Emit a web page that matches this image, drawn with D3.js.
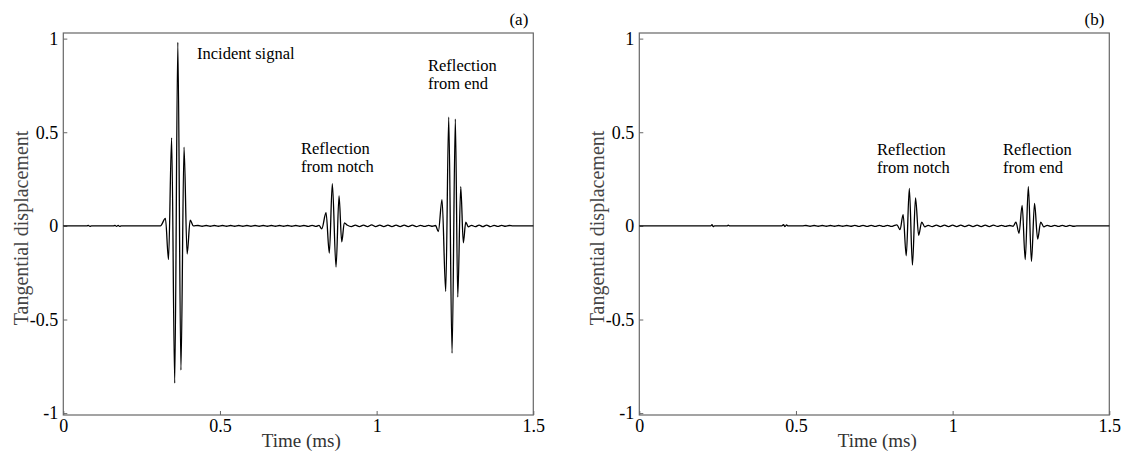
<!DOCTYPE html>
<html>
<head>
<meta charset="utf-8">
<script src="https://cdn.jsdelivr.net/npm/d3@7"></script>
<style>
  body { margin: 0; background: #fff; }
  svg { display: block; }
</style>
</head>
<body>
<svg id="chart" width="1130" height="457"></svg>
<script>
const serif = '"Liberation Serif", "Times New Roman", "DejaVu Serif", serif'

// ticks
const xTicks = [0, 0.5, 1, 1.5]
const yTicks = [-1, -0.5, 0, 0.5, 1]

// panel (a): [time ms, displacement]
const quietA = [[0, 0], [0.075, 0], [0.08, 0.003], [0.085, -0.003], [0.09, 0],
  [0.16, 0], [0.165, 0.003], [0.17, -0.003], [0.175, 0.003], [0.18, -0.003], [0.185, 0], [0.31, 0]]
const incidentA = [[0.3259, 0.04], [0.3358, -0.18], [0.3457, 0.47], [0.3556, -0.84], [0.3655, 0.98],
  [0.3754, -0.77], [0.3853, 0.42], [0.3951, -0.15], [0.4050, 0.03], [0.415, 0]]
const rippleA0 = [[0.430, 0.002], [0.443, -0.002], [0.456, 0.002], [0.469, -0.002], [0.482, 0.002],
  [0.495, -0.002], [0.508, 0.002], [0.521, -0.002], [0.534, 0.002], [0.547, -0.002], [0.560, 0.002],
  [0.573, -0.002], [0.586, 0.002], [0.599, -0.002], [0.612, 0.002], [0.625, -0.002], [0.638, 0.002],
  [0.651, -0.002], [0.664, 0.002], [0.677, -0.002], [0.690, 0.002], [0.703, -0.002], [0.716, 0.002],
  [0.729, -0.002], [0.742, 0.002], [0.755, -0.002], [0.768, 0.002], [0.781, -0.003], [0.794, 0.003],
  [0.807, -0.003], [0.816, 0.003]]
const notchA = [[0.8248, -0.016], [0.8385, 0.07], [0.8490, -0.145], [0.8586, 0.225], [0.8704, -0.22],
  [0.8800, 0.16], [0.8886, -0.085], [0.8969, 0.016]]
const rippleA1 = [[0.907, 0.003], [0.919, -0.004], [0.932, 0.004], [0.945, -0.004], [0.958, 0.004],
  [0.971, -0.004], [0.984, 0.005], [0.997, -0.004], [1.010, 0.004], [1.023, -0.004], [1.036, 0.004],
  [1.049, -0.004], [1.062, 0.004], [1.075, -0.004], [1.088, 0.004], [1.101, -0.004], [1.114, 0.004],
  [1.127, -0.004], [1.140, 0.003], [1.153, -0.003], [1.166, 0.003], [1.178, -0.002], [1.188, 0.002]]
const endA = [[1.1969, -0.03], [1.2087, 0.14], [1.2205, -0.35], [1.2301, 0.58], [1.2407, -0.68],
  [1.2512, 0.57], [1.2589, -0.38], [1.2684, 0.21], [1.2767, -0.09], [1.2844, 0.02], [1.2927, -0.005]]
const rippleA2 = [[1.303, 0.003], [1.315, -0.004], [1.327, 0.004], [1.339, -0.004], [1.351, 0.004],
  [1.363, -0.004], [1.375, 0.003], [1.387, -0.003], [1.399, 0.003], [1.411, -0.002], [1.423, 0.002],
  [1.435, 0], [1.5, 0]]

// panel (b)
const quietB = [[0, 0], [0.228, 0], [0.232, 0.006], [0.236, -0.004], [0.24, 0], [0.28, 0], [0.284, 0.004],
  [0.288, 0], [0.455, 0], [0.46, 0.006], [0.465, -0.004], [0.47, 0.005], [0.475, 0], [0.52, 0]]
const rippleB0 = [[0.532, 0.002], [0.545, -0.002], [0.558, 0.002], [0.571, -0.002], [0.584, 0.002],
  [0.597, -0.002], [0.610, 0.002], [0.623, -0.002], [0.636, 0.002], [0.649, -0.002], [0.662, 0.002],
  [0.675, -0.002], [0.688, 0.003], [0.701, -0.003], [0.714, 0.003], [0.727, -0.003], [0.740, 0.003],
  [0.753, -0.003], [0.766, 0.003], [0.779, -0.003], [0.792, 0.003], [0.805, -0.003], [0.815, 0.003]]
const notchB = [[0.8222, 0.005], [0.8321, -0.02], [0.8420, 0.06], [0.8519, -0.16], [0.8618, 0.20],
  [0.8717, -0.21], [0.8816, 0.15], [0.8915, -0.05], [0.9014, 0.02], [0.9113, -0.005]]
const rippleB1 = [[0.922, 0.003], [0.935, -0.004], [0.948, 0.004], [0.961, -0.004], [0.974, 0.004],
  [0.987, -0.004], [1.000, 0.004], [1.013, -0.004], [1.026, 0.004], [1.039, -0.004], [1.052, 0.004],
  [1.065, -0.004], [1.078, 0.004], [1.091, -0.004], [1.104, 0.004], [1.117, -0.004], [1.130, 0.004],
  [1.143, -0.003], [1.156, 0.003], [1.169, -0.003], [1.182, 0.002], [1.193, -0.002]]
const endB = [[1.2020, 0.02], [1.2119, -0.04], [1.2218, 0.11], [1.2317, -0.18], [1.2416, 0.21],
  [1.2515, -0.19], [1.2614, 0.12], [1.2713, -0.07], [1.2812, 0.02], [1.2911, -0.005]]
const rippleB2 = [[1.302, 0.003], [1.314, -0.003], [1.326, 0.003], [1.338, -0.003], [1.350, 0.003],
  [1.362, -0.003], [1.374, 0.003], [1.386, -0.002], [1.396, 0], [1.5, 0]]

const seriesA = [].concat(quietA, incidentA, rippleA0, notchA, rippleA1, endA, rippleA2)
const seriesB = [].concat(quietB, rippleB0, notchB, rippleB1, endB, rippleB2)

const panels = [
  { left: 63.3, tag: '(a)', data: seriesA,
    notes: [
      { x: 197, y: 59, lines: ['Incident signal'] },
      { x: 301, y: 154, lines: ['Reflection', 'from notch'] },
      { x: 428, y: 71, lines: ['Reflection', 'from end'] }
    ] },
  { left: 639.3, tag: '(b)', data: seriesB,
    notes: [
      { x: 877, y: 155, lines: ['Reflection', 'from notch'] },
      { x: 1003, y: 155, lines: ['Reflection', 'from end'] }
    ] }
]

const svg = d3.select('#chart')
const plotW = 470
const plotTop = 33, plotBottom = 415

panels.forEach(p => {
  const x = d3.scaleLinear().domain([0, 1.5]).range([p.left, p.left + plotW])
  const y = d3.scaleLinear().domain([-1.01, 1.03]).range([plotBottom, plotTop])
  const g = svg.append('g')

  // x axis
  const xa = g.append('g')
    .attr('transform', `translate(0,${plotBottom})`)
    .call(d3.axisBottom(x).tickValues(xTicks).tickFormat(d => String(d))
      .tickSizeInner(-4).tickSizeOuter(0).tickPadding(4))
  xa.attr('font-family', serif).attr('font-size', 18)
  xa.select('.domain').remove()
  xa.selectAll('line').attr('stroke', '#666')
  xa.selectAll('text').attr('fill', '#000')

  // y axis
  const ya = g.append('g')
    .attr('transform', `translate(${p.left},0)`)
    .call(d3.axisLeft(y).tickValues(yTicks).tickFormat(d => String(d))
      .tickSizeInner(-4).tickSizeOuter(0).tickPadding(5))
  ya.attr('font-family', serif).attr('font-size', 18)
  ya.select('.domain').remove()
  ya.selectAll('line').attr('stroke', '#666')
  ya.selectAll('text').attr('fill', '#000')

  // frame
  g.append('rect')
    .attr('x', p.left).attr('y', plotTop)
    .attr('width', plotW).attr('height', plotBottom - plotTop)
    .attr('fill', 'none').attr('stroke', '#666').attr('stroke-width', 1.2)

  // signal
  const line = d3.line()
    .x(d => x(d[0]))
    .y(d => y(d[1]))
    .curve(d3.curveMonotoneX)
  g.append('path')
    .datum(p.data)
    .attr('d', line)
    .attr('fill', 'none')
    .attr('stroke', '#000')
    .attr('stroke-width', 1.3)

  // labels
  g.append('text')
    .attr('x', p.left + plotW / 2 + 3).attr('y', 447)
    .attr('text-anchor', 'middle').attr('font-family', serif)
    .attr('font-size', 19).attr('fill', '#333')
    .text('Time (ms)')

  g.append('text')
    .attr('transform', `translate(${p.left - 35},228) rotate(-90)`)
    .attr('text-anchor', 'middle').attr('font-family', serif)
    .attr('font-size', 20).attr('fill', '#444')
    .text('Tangential displacement')

  g.append('text')
    .attr('x', p.left + plotW - 5).attr('y', 25)
    .attr('text-anchor', 'end').attr('font-family', serif)
    .attr('font-size', 17).attr('fill', '#000')
    .text(p.tag)

  p.notes.forEach(n => {
    n.lines.forEach((s, i) => {
      g.append('text')
        .attr('x', n.x).attr('y', n.y + i * 18)
        .attr('font-family', serif)
        .attr('font-size', 16.5).attr('fill', '#000')
        .text(s)
    })
  })
})
</script>
</body>
</html>
